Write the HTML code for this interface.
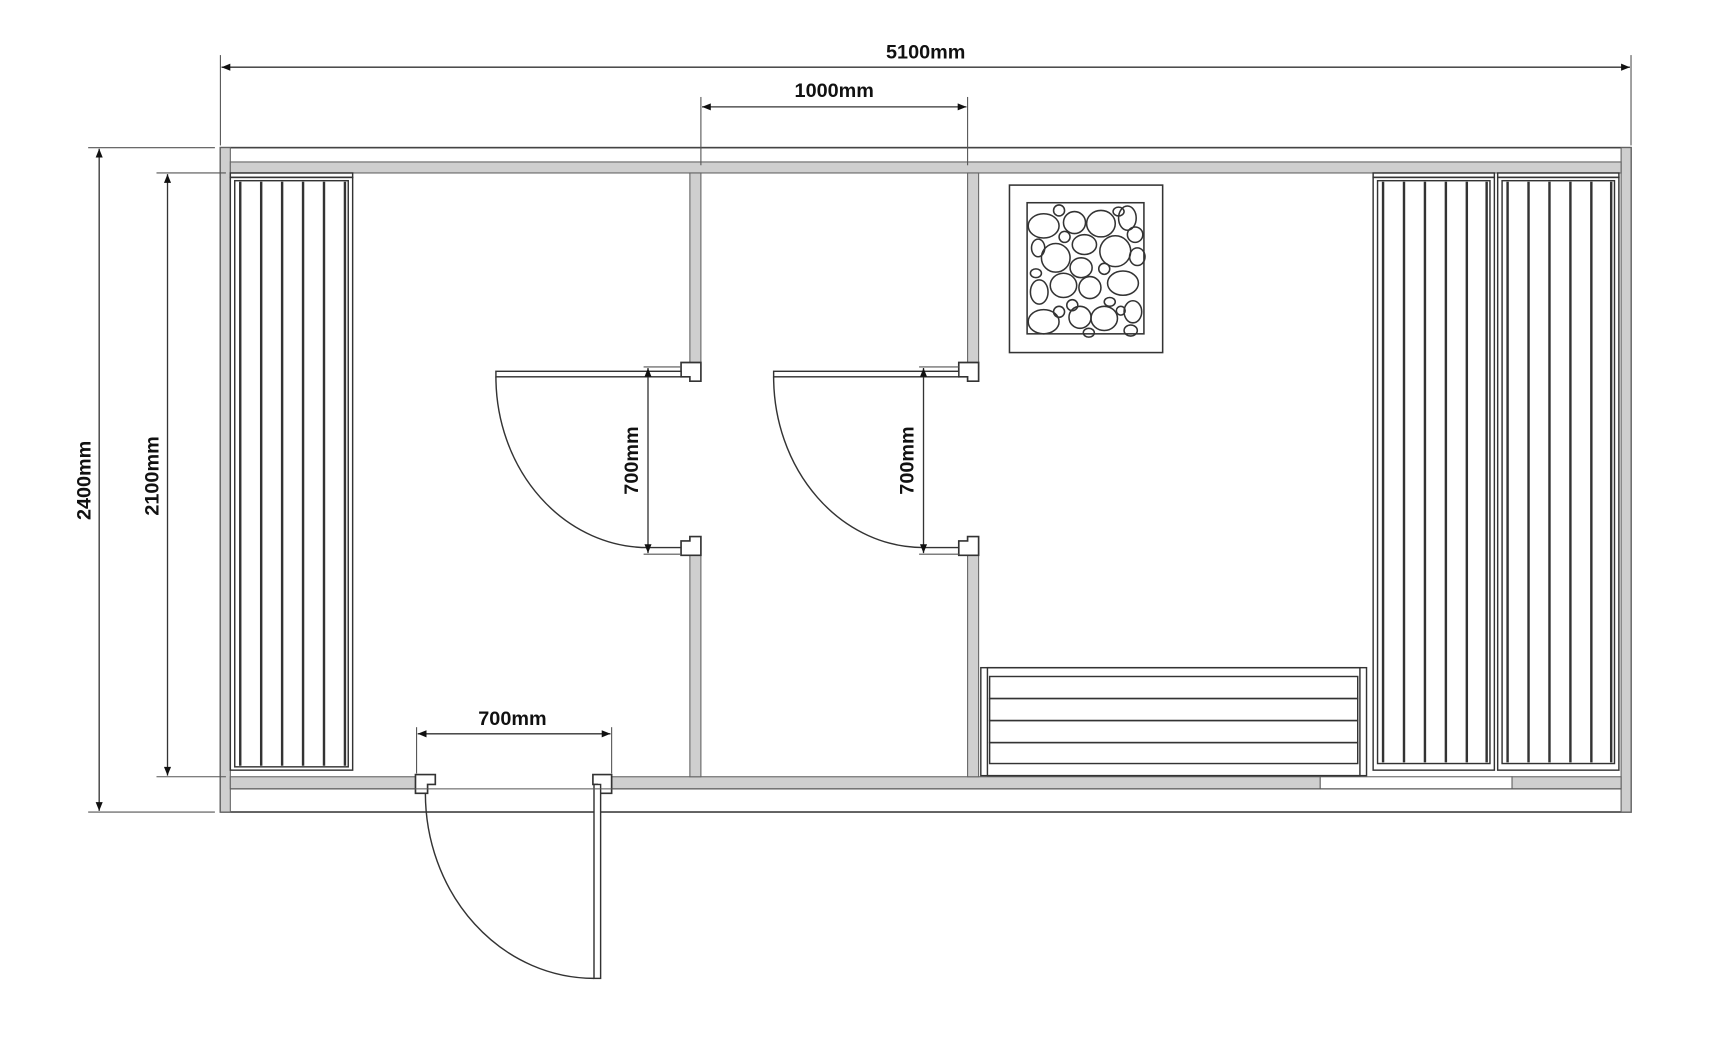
<!DOCTYPE html>
<html><head><meta charset="utf-8"><style>
html,body{margin:0;padding:0;background:#fff;width:1728px;height:1050px;overflow:hidden}
svg{display:block}
text{font-family:"Liberation Sans",sans-serif;font-weight:bold;font-size:18px;fill:#111}
</style></head><body>
<svg width="1728" height="1050" viewBox="0 0 1568 953" preserveAspectRatio="none" xmlns="http://www.w3.org/2000/svg">
<defs>
<marker id="a" viewBox="0 0 10 10" refX="10" refY="5" markerWidth="10" markerHeight="8" orient="auto-start-reverse" markerUnits="userSpaceOnUse"><path d="M0,1 L10,5 L0,9 z" fill="#111"/></marker>
</defs>
<!-- outer building -->
<rect x="200" y="134" width="1280" height="603" fill="#fff" stroke="#444" stroke-width="1.5"/>
<g fill="#cfcfcf" stroke="#666" stroke-width="1">
<rect x="200" y="134" width="9" height="603"/>
<rect x="1471" y="134" width="9" height="603"/>
<rect x="209" y="147" width="1262" height="10"/>
<rect x="209" y="705" width="171" height="11"/>
<rect x="555" y="705" width="643" height="11"/>
<rect x="1372" y="705" width="99" height="11"/>
<rect x="1198" y="705" width="174" height="11" fill="#fff"/>
<rect x="626" y="157" width="10" height="176"/>
<rect x="626" y="500" width="10" height="205"/>
<rect x="878" y="157" width="10" height="176"/>
<rect x="878" y="500" width="10" height="205"/>
</g>
<g fill="#fff" stroke="#333" stroke-width="1.5">
<path d="M618,329 h18 v17 h-10 v-4 h-8 z"/>
<path d="M618,504 h18 v-17 h-10 v4 h-8 z"/>
<path d="M870,329 h18 v17 h-10 v-4 h-8 z"/>
<path d="M870,504 h18 v-17 h-10 v4 h-8 z"/>
<path d="M377,703 h18 v9 h-7 v8 h-11 z"/>
<path d="M555,703 h-17 v9 h4 v8 h13 z"/>
</g>
<g fill="none" stroke="#333" stroke-width="1.3">
<rect x="450" y="337" width="168" height="5" fill="#fff"/>
<path d="M450,342 A138,155 0 0 0 588,497"/>
<line x1="588" y1="497" x2="618" y2="497"/>
<rect x="702" y="337" width="168" height="5" fill="#fff"/>
<path d="M702,342 A136,155 0 0 0 838,497"/>
<line x1="838" y1="497" x2="870" y2="497"/>
<rect x="539" y="712" width="6" height="176" fill="#fff"/>
<path d="M386,720 A153,168 0 0 0 539,888"/>
<line x1="209" y1="716" x2="1471" y2="716" stroke="#555" stroke-width="1"/>
</g>
<g fill="none" stroke="#333" stroke-width="1.3">
<rect x="209" y="157" width="111" height="4"/>
<rect x="209" y="161" width="111" height="538"/>
<rect x="213" y="164" width="103" height="532"/>
<rect x="1246" y="157" width="110" height="4"/>
<rect x="1246" y="161" width="110" height="538"/>
<rect x="1250" y="164" width="102" height="529"/>
<rect x="1359" y="157" width="110" height="4"/>
<rect x="1359" y="161" width="110" height="538"/>
<rect x="1363" y="164" width="102" height="529"/>
</g>
<g stroke="#333" stroke-width="2.2">
<line x1="218" y1="165" x2="218" y2="695"/><line x1="237" y1="165" x2="237" y2="695"/><line x1="256" y1="165" x2="256" y2="695"/><line x1="275" y1="165" x2="275" y2="695"/><line x1="294" y1="165" x2="294" y2="695"/><line x1="313" y1="165" x2="313" y2="695"/>
<line x1="1255" y1="165" x2="1255" y2="692"/><line x1="1274" y1="165" x2="1274" y2="692"/><line x1="1293" y1="165" x2="1293" y2="692"/><line x1="1312" y1="165" x2="1312" y2="692"/><line x1="1331" y1="165" x2="1331" y2="692"/><line x1="1349" y1="165" x2="1349" y2="692"/>
<line x1="1368" y1="165" x2="1368" y2="692"/><line x1="1387" y1="165" x2="1387" y2="692"/><line x1="1406" y1="165" x2="1406" y2="692"/><line x1="1425" y1="165" x2="1425" y2="692"/><line x1="1444" y1="165" x2="1444" y2="692"/><line x1="1462" y1="165" x2="1462" y2="692"/>
</g>
<g fill="none" stroke="#333" stroke-width="1.3">
<rect x="890" y="606" width="350" height="98"/>
<rect x="896" y="606" width="338" height="98"/>
<rect x="898" y="614" width="334" height="20"/>
<rect x="898" y="634" width="334" height="20"/>
<rect x="898" y="654" width="334" height="20"/>
<rect x="898" y="674" width="334" height="19"/>
</g>
<g fill="none" stroke="#333" stroke-width="1.4">
<rect x="916" y="168" width="139" height="152"/>
<rect x="932" y="184" width="106" height="119"/>
<ellipse cx="947" cy="205" rx="14" ry="11"/><ellipse cx="961" cy="191" rx="5" ry="5"/>
<ellipse cx="975" cy="202" rx="10" ry="10"/><ellipse cx="999" cy="203" rx="13" ry="12"/>
<ellipse cx="1015" cy="192" rx="5" ry="4"/><ellipse cx="1023" cy="198" rx="8" ry="11"/>
<ellipse cx="1030" cy="213" rx="7" ry="7"/><ellipse cx="942" cy="225" rx="6" ry="8"/>
<ellipse cx="958" cy="234" rx="13" ry="13"/><ellipse cx="966" cy="215" rx="5" ry="5"/>
<ellipse cx="984" cy="222" rx="11" ry="9"/><ellipse cx="1012" cy="228" rx="14" ry="14"/>
<ellipse cx="1032" cy="233" rx="7" ry="8"/><ellipse cx="940" cy="248" rx="5" ry="4"/>
<ellipse cx="981" cy="243" rx="10" ry="9"/><ellipse cx="1002" cy="244" rx="5" ry="5"/>
<ellipse cx="943" cy="265" rx="8" ry="11"/><ellipse cx="965" cy="259" rx="12" ry="11"/>
<ellipse cx="989" cy="261" rx="10" ry="10"/><ellipse cx="1019" cy="257" rx="14" ry="11"/>
<ellipse cx="973" cy="277" rx="5" ry="5"/><ellipse cx="961" cy="283" rx="5" ry="5"/>
<ellipse cx="1007" cy="274" rx="5" ry="4"/><ellipse cx="1017" cy="282" rx="4" ry="4"/>
<ellipse cx="947" cy="292" rx="14" ry="11"/><ellipse cx="980" cy="288" rx="10" ry="10"/>
<ellipse cx="1002" cy="289" rx="12" ry="11"/><ellipse cx="1028" cy="283" rx="8" ry="10"/>
<ellipse cx="988" cy="302" rx="5" ry="4"/><ellipse cx="1026" cy="300" rx="6" ry="5"/>
</g>
<!-- dimensions on top -->
<g stroke="#555" stroke-width="1" fill="none">
<line x1="200" y1="50" x2="200" y2="132"/>
<line x1="1480" y1="50" x2="1480" y2="132"/>
<line x1="636" y1="88" x2="636" y2="150"/>
<line x1="878" y1="88" x2="878" y2="150"/>
<line x1="80" y1="134" x2="195" y2="134"/>
<line x1="80" y1="737" x2="195" y2="737"/>
<line x1="142" y1="157" x2="205" y2="157"/>
<line x1="142" y1="705" x2="205" y2="705"/>
<line x1="378" y1="660" x2="378" y2="702"/>
<line x1="555" y1="660" x2="555" y2="702"/>
<line x1="584" y1="333" x2="618" y2="333"/>
<line x1="584" y1="503" x2="618" y2="503"/>
<line x1="834" y1="333" x2="870" y2="333"/>
<line x1="834" y1="503" x2="870" y2="503"/>
</g>
<g stroke="#333" stroke-width="1.2" fill="none">
<line x1="201" y1="61" x2="1479" y2="61" marker-start="url(#a)" marker-end="url(#a)"/>
<line x1="637" y1="97" x2="877" y2="97" marker-start="url(#a)" marker-end="url(#a)"/>
<line x1="90" y1="135" x2="90" y2="736" marker-start="url(#a)" marker-end="url(#a)"/>
<line x1="152" y1="158" x2="152" y2="704" marker-start="url(#a)" marker-end="url(#a)"/>
<line x1="379" y1="666" x2="554" y2="666" marker-start="url(#a)" marker-end="url(#a)"/>
<line x1="588" y1="334" x2="588" y2="502" marker-start="url(#a)" marker-end="url(#a)"/>
<line x1="838" y1="334" x2="838" y2="502" marker-start="url(#a)" marker-end="url(#a)"/>
</g>
<text x="840" y="53" text-anchor="middle">5100mm</text>
<text x="757" y="88" text-anchor="middle">1000mm</text>
<text x="465" y="658" text-anchor="middle">700mm</text>
<text transform="translate(82,436) rotate(-90)" text-anchor="middle">2400mm</text>
<text transform="translate(144,432) rotate(-90)" text-anchor="middle">2100mm</text>
<text transform="translate(579,418) rotate(-90)" text-anchor="middle">700mm</text>
<text transform="translate(829,418) rotate(-90)" text-anchor="middle">700mm</text>
</svg>
</body></html>
